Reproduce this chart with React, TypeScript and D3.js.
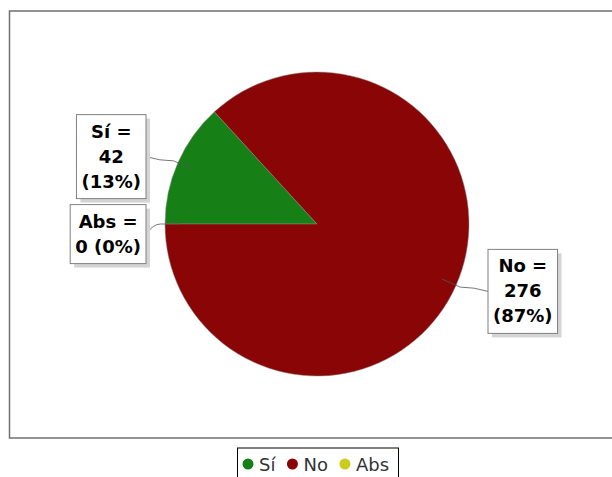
import { useEffect, useRef } from 'react';
import { select, pie, arc } from 'd3';

const categories = ['Sí', 'No', 'Abs'];
const values = [42, 276, 0];
const colors = ['#168016', '#8a0505', '#cccc1e'];

export default function App() {
  const svgRef = useRef<SVGSVGElement>(null);

  useEffect(() => {
    const width = 612;
    const height = 477;
    const cx = 317;
    const cy = 224;
    const r = 152;
    const font = '"DejaVu Sans", sans-serif';

    const svg = select(svgRef.current);
    svg.selectAll('*').remove();
    svg.attr('width', width).attr('height', height);

    svg.append('rect').attr('width', width).attr('height', height).attr('fill', '#fff');

    // plot area border
    svg
      .append('rect')
      .attr('x', 9.5)
      .attr('y', 11)
      .attr('width', 640)
      .attr('height', 427)
      .attr('fill', '#fff')
      .attr('stroke', '#707070')
      .attr('stroke-width', 1.5);

    const data = categories.map((c, i) => ({ name: c, value: values[i], color: colors[i] }));
    const total = values.reduce((a, b) => a + b, 0);

    const arcs = pie<any>()
      .value((d) => d.value)
      .sort(null)
      .startAngle(-Math.PI / 2)
      .endAngle((3 * Math.PI) / 2)(data);

    const g = svg.append('g').attr('transform', `translate(${cx},${cy})`);
    const arcGen = arc<any>().innerRadius(0).outerRadius(r);

    g.selectAll('path.slice')
      .data(arcs.filter((a) => a.value > 0))
      .enter()
      .append('path')
      .attr('class', 'slice')
      .attr('d', arcGen)
      .attr('fill', (d) => d.data.color)
      .attr('stroke', '#888')
      .attr('stroke-width', 0.5);

    // labels
    const fs = 18;
    const lh = 25;
    const labels = arcs.map((a) => {
      const mid = (a.startAngle + a.endAngle) / 2;
      const pct = Math.round((a.value / total) * 100);
      const lines =
        a.value === 0
          ? [`${a.data.name} =`, `${a.value} (${pct}%)`]
          : [`${a.data.name} =`, `${a.value}`, `(${pct}%)`];
      const sx = Math.sin(mid);
      const sy = -Math.cos(mid);
      const left = sx < -0.0001 || Math.abs(sx) < 0.0001;
      return { a, mid, lines, sx, sy, left, cyLabel: cy + sy * r * 1.1, h: lines.length * lh + 9 };
    });

    // push overlapping labels on the same side down
    ['left', 'right'].forEach((side) => {
      const group = labels
        .filter((l) => (side === 'left') === l.left)
        .sort((p, q) => p.cyLabel - q.cyLabel);
      for (let i = 1; i < group.length; i++) {
        const prev = group[i - 1];
        const cur = group[i];
        const minC = prev.cyLabel + prev.h / 2 + 6 + cur.h / 2;
        if (cur.cyLabel < minC) cur.cyLabel = minC;
      }
    });

    labels.forEach((l) => {
      const tmp = svg
        .append('g')
        .attr('font-family', font)
        .attr('font-size', fs)
        .attr('font-weight', 'bold');
      const widths = l.lines.map((t) => {
        const n = tmp.append('text').text(t);
        const w = (n.node() as SVGTextElement).getComputedTextLength();
        return w;
      });
      tmp.remove();
      const bw = Math.max(...widths) + 10;
      const bx = l.left ? 146 - bw : 488;
      const by = l.cyLabel - l.h / 2;

      const ax = cx + l.sx * r * 0.9;
      const ay = cy + l.sy * r * 0.9;
      const ex = cx + l.sx * r * 1.03;
      const ey = cy + l.sy * r * 1.03;
      const bxEdge = l.left ? bx + bw : bx;
      const byEdge = by + l.h / 2;
      svg
        .append('path')
        .attr('d', `M${ax},${ay}L${ex},${ey}Q${(ex + bxEdge) / 2},${ey} ${bxEdge},${byEdge}`)
        .attr('fill', 'none')
        .attr('stroke', '#555')
        .attr('stroke-width', 0.8);

      svg
        .append('rect')
        .attr('x', bx + 4)
        .attr('y', by + 4)
        .attr('width', bw)
        .attr('height', l.h)
        .attr('fill', '#d4d4d4');
      svg
        .append('rect')
        .attr('x', bx)
        .attr('y', by)
        .attr('width', bw)
        .attr('height', l.h)
        .attr('fill', '#fff')
        .attr('stroke', '#808080')
        .attr('stroke-width', 1);

      const tg = svg
        .append('g')
        .attr('font-family', font)
        .attr('font-size', fs)
        .attr('font-weight', 'bold')
        .attr('fill', '#000')
        .attr('text-anchor', 'middle');
      l.lines.forEach((t, i) => {
        tg.append('text')
          .attr('x', bx + bw / 2)
          .attr('y', by + 23 + i * lh)
          .text(t);
      });
    });

    // legend
    const legend = svg.append('g');
    legend
      .append('rect')
      .attr('x', 237.5)
      .attr('y', 448)
      .attr('width', 161)
      .attr('height', 40)
      .attr('fill', '#fff')
      .attr('stroke', '#000')
      .attr('stroke-width', 1);
    let lx = 248;
    data.forEach((d) => {
      legend.append('circle').attr('cx', lx).attr('cy', 464).attr('r', 5.5).attr('fill', d.color);
      const t = legend
        .append('text')
        .attr('x', lx + 11)
        .attr('y', 471)
        .attr('font-family', font)
        .attr('font-size', 18)
        .attr('fill', '#333')
        .text(d.name);
      const w = (t.node() as SVGTextElement).getComputedTextLength();
      lx += 11 + w + 17;
    });
  }, []);

  return (
    <div style={{ position: 'absolute', left: 0, top: 0 }}>
      <svg ref={svgRef}></svg>
    </div>
  );
}
